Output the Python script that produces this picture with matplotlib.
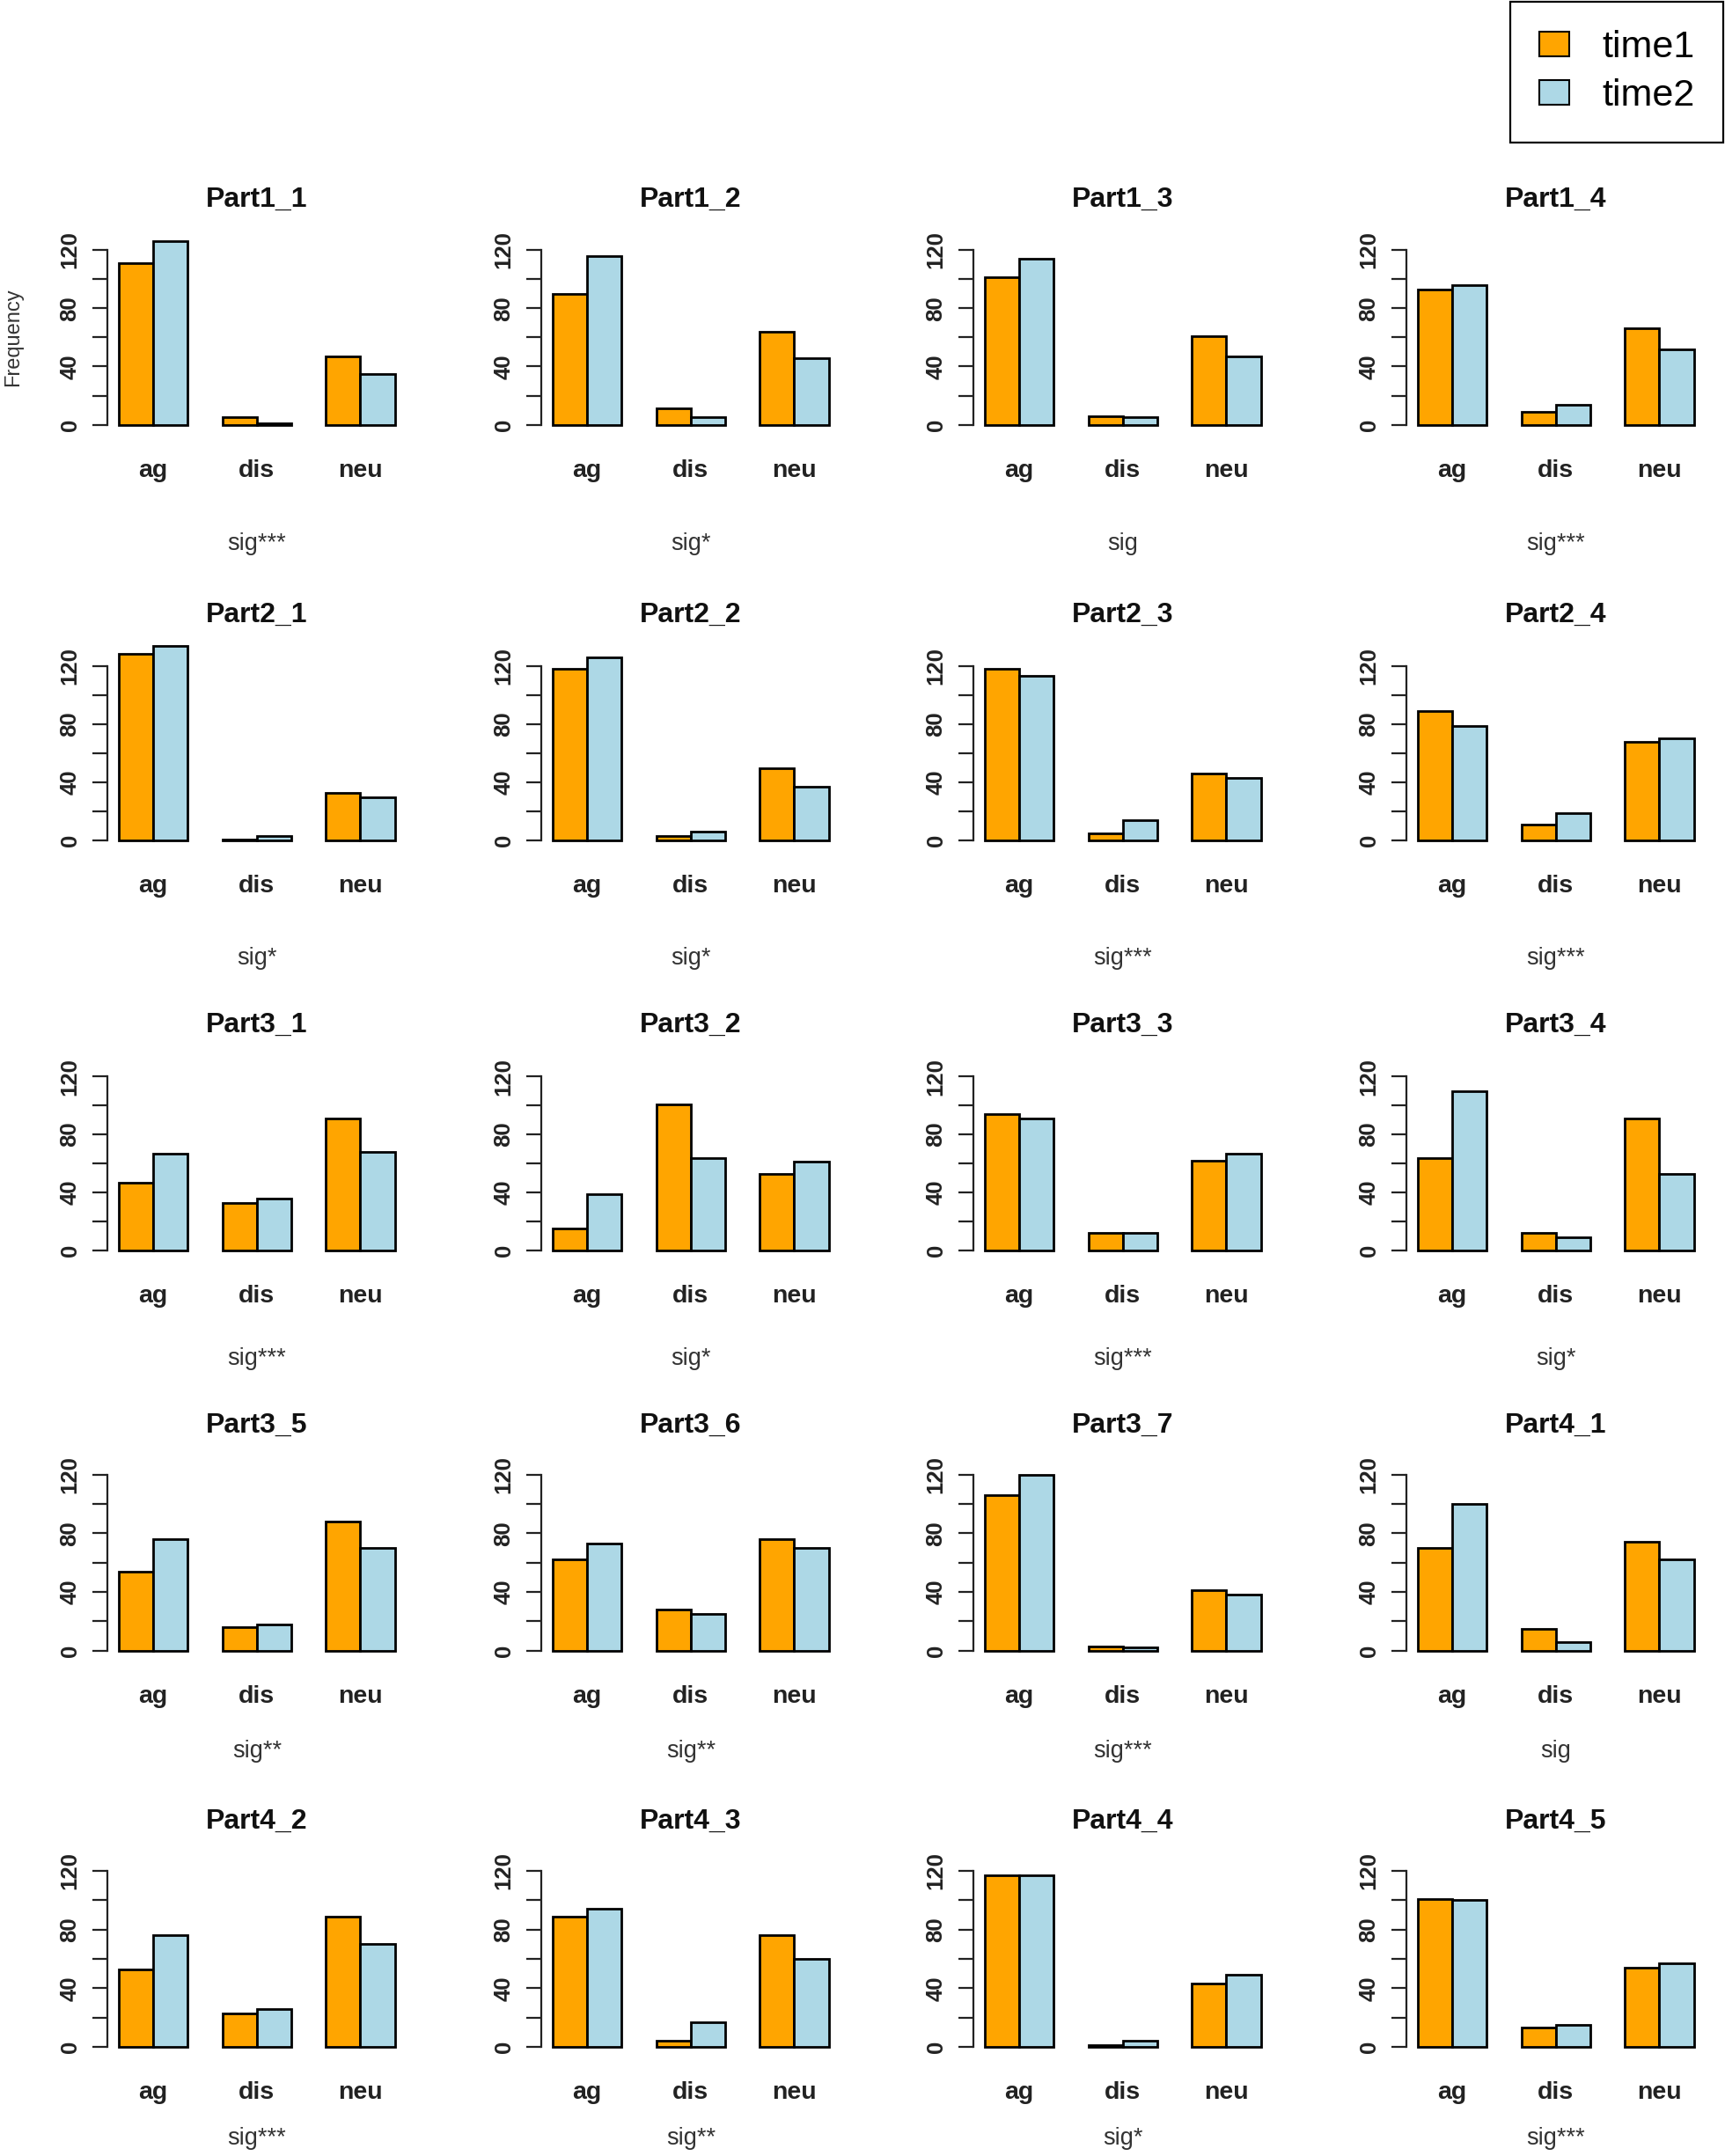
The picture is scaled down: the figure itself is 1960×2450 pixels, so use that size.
import matplotlib
matplotlib.use("Agg")
import matplotlib.pyplot as plt
import matplotlib.transforms as mtransforms
from matplotlib.patches import Patch
import numpy as np

plt.rcParams['font.family'] = ['Liberation Sans', 'DejaVu Sans']

# datos
panels = ["Part1_1", "Part1_2", "Part1_3", "Part1_4",
          "Part2_1", "Part2_2", "Part2_3", "Part2_4",
          "Part3_1", "Part3_2", "Part3_3", "Part3_4",
          "Part3_5", "Part3_6", "Part3_7", "Part4_1",
          "Part4_2", "Part4_3", "Part4_4", "Part4_5"]
sig = ["sig***", "sig*", "sig", "sig***",
       "sig*", "sig*", "sig***", "sig***",
       "sig***", "sig*", "sig***", "sig*",
       "sig**", "sig**", "sig***", "sig",
       "sig***", "sig**", "sig*", "sig***"]
categories = ["ag", "dis", "neu"]
time1 = [[111, 5, 47], [90, 11, 64], [101, 6, 61], [93, 9, 66],
         [128, 1, 33], [118, 3, 50], [118, 5, 46], [89, 11, 68],
         [47, 33, 91], [15, 101, 53], [94, 12, 62], [64, 12, 91],
         [54, 16, 88], [62, 28, 76], [106, 3, 41], [70, 15, 74],
         [53, 23, 89], [89, 4, 76], [117, 1, 43], [101, 13, 54]]
time2 = [[126, 1, 35], [116, 5, 46], [114, 5, 47], [96, 14, 52],
         [134, 3, 30], [126, 6, 37], [113, 14, 43], [79, 19, 70],
         [67, 36, 68], [39, 64, 61], [91, 12, 67], [110, 9, 53],
         [76, 18, 70], [73, 25, 70], [120, 2, 38], [100, 6, 62],
         [76, 26, 70], [94, 17, 60], [117, 4, 49], [100, 15, 57]]

naranja = "#FFA500"
azul = "#ADD8E6"

W, H = 1960, 2450
fig = plt.figure(figsize=(W / 100, H / 100), dpi=100)

# posiciones de la rejilla (pixeles)
col_bar0 = [135, 628, 1119, 1611]
row_zero = [482.7, 955.3, 1421, 1875.7, 2326]
row_scale = [1.656, 1.655, 1.648, 1.667, 1.667]
sig_off = [142, 141, 130, 121, 111]
unit_x = 39.2
ylo, yhi = -6, 150


def desplazar(ax, dx_px, dy_px):
    return ax.transData + mtransforms.ScaledTranslation(dx_px / 100, -dy_px / 100, fig.dpi_scale_trans)


for i, nombre in enumerate(panels):
    r, c = divmod(i, 4)
    s = row_scale[r]
    x0 = col_bar0[c] + (0.66 - 1) * unit_x
    x1 = col_bar0[c] + (9.34 - 1) * unit_x
    ytop = row_zero[r] - yhi * s
    ybot = row_zero[r] - ylo * s
    ax = fig.add_axes([x0 / W, 1 - ybot / H, (x1 - x0) / W, (ybot - ytop) / H])
    ax.set_xlim(0.66, 9.34)
    ax.set_ylim(ylo, yhi)

    lefts = 1 + 3 * np.arange(len(categories))
    ax.bar(lefts, time1[i], width=1, align='edge', color=naranja,
           edgecolor='black', linewidth=2, clip_on=False)
    ax.bar(lefts + 1, time2[i], width=1, align='edge', color=azul,
           edgecolor='black', linewidth=2, clip_on=False)

    for lado in ['top', 'right', 'bottom']:
        ax.spines[lado].set_visible(False)
    ax.spines['left'].set_bounds(0, 120)
    ax.spines['left'].set_linewidth(1.6)
    ax.spines['left'].set_color('#222222')

    ax.set_xticks([])
    ax.set_yticks([0, 40, 80, 120])
    ax.set_yticklabels(['0', '40', '80', '120'], rotation=90, va='center',
                       fontsize=18.5, fontweight='bold', color='#222222')
    ax.set_yticks([20, 60, 100], minor=True)
    ax.tick_params(axis='y', which='both', length=12.2, width=1.6,
                   pad=9.5, color='#222222')

    for k, cat in enumerate(categories):
        ax.text(lefts[k] + 1, 0, cat, transform=desplazar(ax, 0, 59),
                ha='center', va='baseline', fontsize=20.5,
                fontweight='bold', color='#222222')

    ax.text(5, 0, nombre, transform=desplazar(ax, 0, -248), ha='center',
            va='baseline', fontsize=23, fontweight='bold', color='#111111')
    ax.text(5, 0, sig[i], transform=desplazar(ax, 0, sig_off[r]), ha='center',
            va='baseline', fontsize=19.5, color='#333333')

    if i == 0:
        ax.text(0.66, 60, "Frequency", transform=desplazar(ax, -107, 0),
                rotation=90, ha='center', va='center', fontsize=17,
                color='#333333')

handles = [Patch(facecolor=naranja, edgecolor='black', linewidth=1.5),
           Patch(facecolor=azul, edgecolor='black', linewidth=1.5)]
leg = fig.legend(handles, ['time1', 'time2'], loc='upper right',
                 bbox_to_anchor=(1958 / W, 1 - 2 / H), fontsize=31,
                 frameon=True, fancybox=False, edgecolor='black',
                 framealpha=1, borderpad=0.75, handlelength=0.81,
                 handleheight=0.63, handletextpad=0.86, labelspacing=0.35,
                 borderaxespad=0)
leg.get_frame().set_linewidth(1.6)

fig.savefig("out.png", dpi=100)
plt.close(fig)
